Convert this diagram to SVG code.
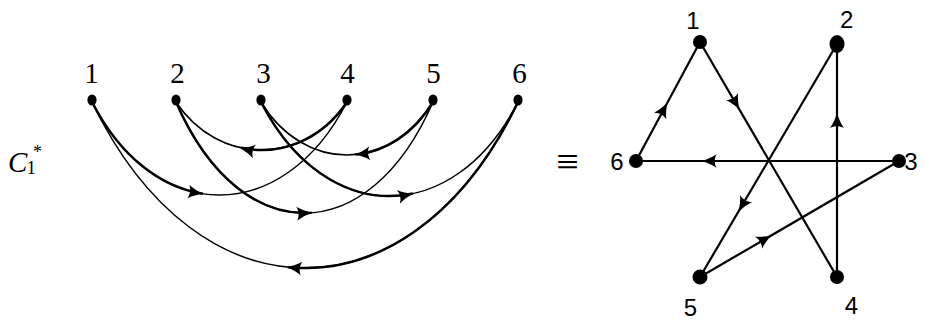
<svg xmlns="http://www.w3.org/2000/svg" xmlns:xlink="http://www.w3.org/1999/xlink" width="925" height="320" viewBox="0 0 925 320">
<style>
.bg{fill:#ffffff}
.thin{fill:none;stroke:#000;stroke-width:1.5}
.thick{fill:none;stroke:#000;stroke-width:2.5}
.edge{fill:none;stroke:#000;stroke-width:2.2}
.dot{fill:#000}
.ah{fill:#000}
.serif{font-family:"Liberation Serif","DejaVu Serif",serif;fill:#000}
.sans{font-family:"Liberation Sans","DejaVu Sans",sans-serif;fill:#000;font-size:24px;text-anchor:middle}
.ln{font-size:29px;text-anchor:middle}
</style>
<defs>
<path id="ah" d="M0,0 C-5,-1.6 -11,-4 -15,-7 C-12.5,-3 -12.5,3 -15,7 C-11,4 -5,1.6 0,0 Z"/>
</defs>
<rect class="bg" x="0" y="0" width="925" height="320"/>

<g id="label-C1star">
<text class="serif" x="8" y="172" font-size="29" font-style="italic">C</text>
<text class="serif" x="26.5" y="173.5" font-size="19">1</text>
<text class="serif" x="33" y="158" font-size="18">*</text>
</g>
<g id="equiv">
<text class="serif" x="567.5" y="175" font-size="40" text-anchor="middle">≡</text>
</g>

<g id="left-connectors">
<path class="thin" d="M92,102 C155.75,226 283.25,226 347,102"/>
<path class="thick" pathLength="100" stroke-dasharray="45 200" d="M92,102 C155.75,226 283.25,226 347,102"/>
<path class="thin" d="M347,102 C304.25,166 218.75,166 176,102"/>
<path class="thick" pathLength="100" stroke-dasharray="60 200" d="M347,102 C304.25,166 218.75,166 176,102"/>
<path class="thin" d="M176,102 C240.25,250 368.75,250 433,102"/>
<path class="thick" pathLength="100" stroke-dasharray="52 200" d="M176,102 C240.25,250 368.75,250 433,102"/>
<path class="thin" d="M433,102 C390,172.67 304,172.67 261,102"/>
<path class="thick" pathLength="100" stroke-dasharray="46 200" d="M433,102 C390,172.67 304,172.67 261,102"/>
<path class="thin" d="M261,102 C325.25,227.33 453.75,227.33 518,102"/>
<path class="thick" pathLength="100" stroke-dasharray="57 200" d="M261,102 C325.25,227.33 453.75,227.33 518,102"/>
<path class="thin" d="M518,102 C411.5,323.33 198.5,323.33 92,102"/>
<path class="thick" pathLength="100" stroke-dasharray="53 200" d="M518,102 C411.5,323.33 198.5,323.33 92,102"/>
<use class="ah" href="#ah" transform="translate(203,193.8) rotate(8.6)"/>
<use class="ah" href="#ah" transform="translate(240,148) rotate(193.2)"/>
<use class="ah" href="#ah" transform="translate(311.7,212.7) rotate(-4.4)"/>
<use class="ah" href="#ah" transform="translate(355,154.6) rotate(174.7)"/>
<use class="ah" href="#ah" transform="translate(413,193.8) rotate(-12.1)"/>
<use class="ah" href="#ah" transform="translate(286.7,267) rotate(186.1)"/>
</g>

<g id="L1"><ellipse class="dot" cx="92" cy="100" rx="4.6" ry="5.6"/><text class="serif ln" x="91.5" y="83">1</text></g>
<g id="L2"><ellipse class="dot" cx="176" cy="100" rx="4.6" ry="5.6"/><text class="serif ln" x="177.5" y="83">2</text></g>
<g id="L3"><ellipse class="dot" cx="261" cy="100" rx="4.6" ry="5.6"/><text class="serif ln" x="263.5" y="83">3</text></g>
<g id="L4"><ellipse class="dot" cx="347" cy="100" rx="4.6" ry="5.6"/><text class="serif ln" x="347.5" y="83">4</text></g>
<g id="L5"><ellipse class="dot" cx="433" cy="100" rx="4.6" ry="5.6"/><text class="serif ln" x="433.5" y="83">5</text></g>
<g id="L6"><ellipse class="dot" cx="518" cy="100" rx="4.6" ry="5.6"/><text class="serif ln" x="519.5" y="83">6</text></g>

<g id="right-connectors">
<line class="edge" x1="700" y1="42" x2="837" y2="277"/>
<line class="edge" x1="837" y1="277" x2="837" y2="44"/>
<line class="edge" x1="837" y1="44" x2="700" y2="277"/>
<line class="edge" x1="700" y1="277" x2="899" y2="161"/>
<line class="edge" x1="899" y1="161" x2="636" y2="161"/>
<line class="edge" x1="636" y1="161" x2="700" y2="42"/>
<use class="ah" href="#ah" transform="translate(739.5,109.5) rotate(59.8)"/>
<use class="ah" href="#ah" transform="translate(837,113) rotate(-90)"/>
<use class="ah" href="#ah" transform="translate(738.5,211.5) rotate(120.5)"/>
<use class="ah" href="#ah" transform="translate(771.5,235.2) rotate(-30.2)"/>
<use class="ah" href="#ah" transform="translate(701.7,161) rotate(180)"/>
<use class="ah" href="#ah" transform="translate(667.3,102.8) rotate(-61.7)"/>
</g>

<g id="R1"><circle class="dot" cx="700" cy="42" r="7"/><text class="sans" x="693" y="29">1</text></g>
<g id="R2"><ellipse class="dot" cx="837" cy="44" rx="7.5" ry="9"/><text class="sans" x="846.7" y="28">2</text></g>
<g id="R3"><circle class="dot" cx="899" cy="161" r="7"/><text class="sans" x="911" y="169.5" text-anchor="start">3</text></g>
<g id="R4"><circle class="dot" cx="837" cy="277" r="7"/><text class="sans" x="851.5" y="314">4</text></g>
<g id="R5"><circle class="dot" cx="700" cy="277" r="7.5"/><text class="sans" x="690.5" y="315.5">5</text></g>
<g id="R6"><circle class="dot" cx="636" cy="161" r="7"/><text class="sans" x="617" y="169.5">6</text></g>
</svg>
